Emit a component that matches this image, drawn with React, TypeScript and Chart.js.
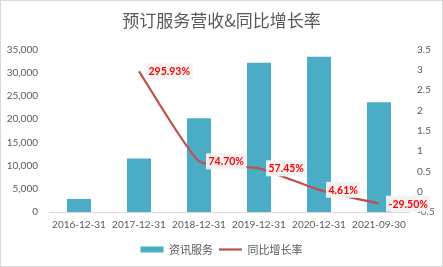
import React, { useEffect, useRef } from "react";
import { Chart, registerables } from "chart.js";

Chart.register(...registerables);

const categories = ["2016-12-31", "2017-12-31", "2018-12-31", "2019-12-31", "2020-12-31", "2021-09-30"];
const revenue = [2800, 11500, 20200, 32100, 33400, 23600];
const growth: (number | null)[] = [null, 2.9593, 0.747, 0.5745, 0.0461, -0.295];
const leftTicks = [0, 5000, 10000, 15000, 20000, 25000, 30000, 35000];
const rightTicks = [-0.5, 0, 0.5, 1, 1.5, 2, 2.5, 3, 3.5];
const titleText = "预订服务营收&同比增长率";
const barLabel = "资讯服务";
const lineLabel = "同比增长率";

const GRAY = "#595959";
const FONT = "Lato, 'Noto Sans CJK SC', sans-serif";

const labelPlugin = {
  id: "pctLabels",
  afterDatasetsDraw(chart: any) {
    const ctx = chart.ctx;
    const meta = chart.getDatasetMeta(1);
    ctx.save();
    ctx.font = `bold 10.5px ${FONT}`;
    ctx.textBaseline = "middle";
    meta.data.forEach((pt: any, i: number) => {
      const v = growth[i];
      if (v === null || v === undefined) return;
      const txt = (v * 100).toFixed(2) + "%";
      const w = ctx.measureText(txt).width;
      const x0 = pt.x + 7;
      const y = pt.y;
      ctx.fillStyle = "rgba(242,242,242,0.95)";
      ctx.fillRect(x0, y - 8, w + 5, 16);
      ctx.fillStyle = "#FF0000";
      ctx.fillText(txt, x0 + 2.5, y + 0.5);
    });
    ctx.restore();
  },
};

const borderPlugin = {
  id: "outerBorder",
  beforeDraw(chart: any) {
    const ctx = chart.ctx;
    ctx.save();
    ctx.fillStyle = "#ffffff";
    ctx.fillRect(0, 0, chart.width, chart.height);
    ctx.strokeStyle = "#d9d9d9";
    ctx.lineWidth = 1;
    ctx.strokeRect(0.5, 0.5, chart.width - 1, chart.height - 1);
    ctx.restore();
  },
};

export default function App() {
  const ref = useRef<HTMLCanvasElement>(null);
  useEffect(() => {
    const chart = new Chart(ref.current!, {
      type: "bar",
      data: {
        labels: categories,
        datasets: [
          {
            type: "bar",
            label: barLabel,
            data: revenue,
            backgroundColor: "#4BACC6",
            borderWidth: 0,
            yAxisID: "y",
            barPercentage: 0.4,
            categoryPercentage: 1,
            order: 2,
          },
          {
            type: "line",
            label: lineLabel,
            data: growth,
            borderColor: "#C0504D",
            backgroundColor: "#C0504D",
            borderWidth: 2.25,
            pointRadius: 0,
            tension: 0.15,
            yAxisID: "y1",
            order: 1,
          } as any,
        ],
      },
      options: {
        responsive: false,
        animation: false,
        layout: { padding: { left: 0, right: 0, top: 0, bottom: 2 } },
        plugins: {
          title: {
            display: true,
            text: titleText,
            color: GRAY,
            font: { family: "'Noto Sans CJK SC', sans-serif", size: 17, weight: "normal" },
            padding: { top: 10, bottom: 19 },
          },
          legend: {
            position: "bottom",
            labels: {
              color: GRAY,
              font: { family: "'Noto Sans CJK SC', sans-serif", size: 11 },
              usePointStyle: true,
              pointStyleWidth: 23,
              boxWidth: 23,
              boxHeight: 6,
              padding: 6,
              sort: (a: any, b: any) => a.datasetIndex - b.datasetIndex,
              generateLabels(chart: any) {
                const items = Chart.defaults.plugins.legend.labels.generateLabels(chart);
                return items.map((it: any) => {
                  const isBar = it.datasetIndex === 0;
                  return {
                    ...it,
                    pointStyle: isBar ? "rect" : "line",
                    lineWidth: isBar ? 0 : 2.25,
                    strokeStyle: isBar ? "#4BACC6" : "#C0504D",
                    fillStyle: isBar ? "#4BACC6" : "#C0504D",
                  };
                });
              },
            },
          },
          tooltip: { enabled: false },
        },
        scales: {
          x: {
            offset: true,
            grid: { display: false, drawTicks: false },
            border: { display: true, color: "#d9d9d9" },
            ticks: {
              color: GRAY,
              font: { family: FONT, size: 10 },
              maxRotation: 0,
              autoSkip: false,
              padding: 7,
            },
          },
          y: {
            position: "left",
            min: 0,
            max: 35000,
            grid: { display: false, drawTicks: false },
            border: { display: false },
            afterBuildTicks(scale: any) {
              scale.ticks = leftTicks.map((v) => ({ value: v }));
            },
            afterFit(scale: any) {
              scale.width = 49;
            },
            ticks: {
              color: GRAY,
              font: { family: FONT, size: 10 },
              padding: 11,
              callback: (v: any) => Number(v).toLocaleString("en-US"),
            },
          },
          y1: {
            position: "right",
            min: -0.5,
            max: 3.5,
            grid: { display: false, drawTicks: false },
            border: { display: false },
            afterBuildTicks(scale: any) {
              scale.ticks = rightTicks.map((v) => ({ value: v }));
            },
            afterFit(scale: any) {
              scale.width = 34;
            },
            ticks: {
              color: GRAY,
              font: { family: FONT, size: 10 },
              padding: 8,
              callback: (v: any) => String(Number(v)),
            },
          },
        },
      },
      plugins: [borderPlugin, labelPlugin],
    });
    return () => chart.destroy();
  }, []);
  return (
    <div style={{ position: "absolute", left: 0, top: 0, width: 443, height: 267 }}>
      <canvas ref={ref} width={443} height={267} />
    </div>
  );
}
